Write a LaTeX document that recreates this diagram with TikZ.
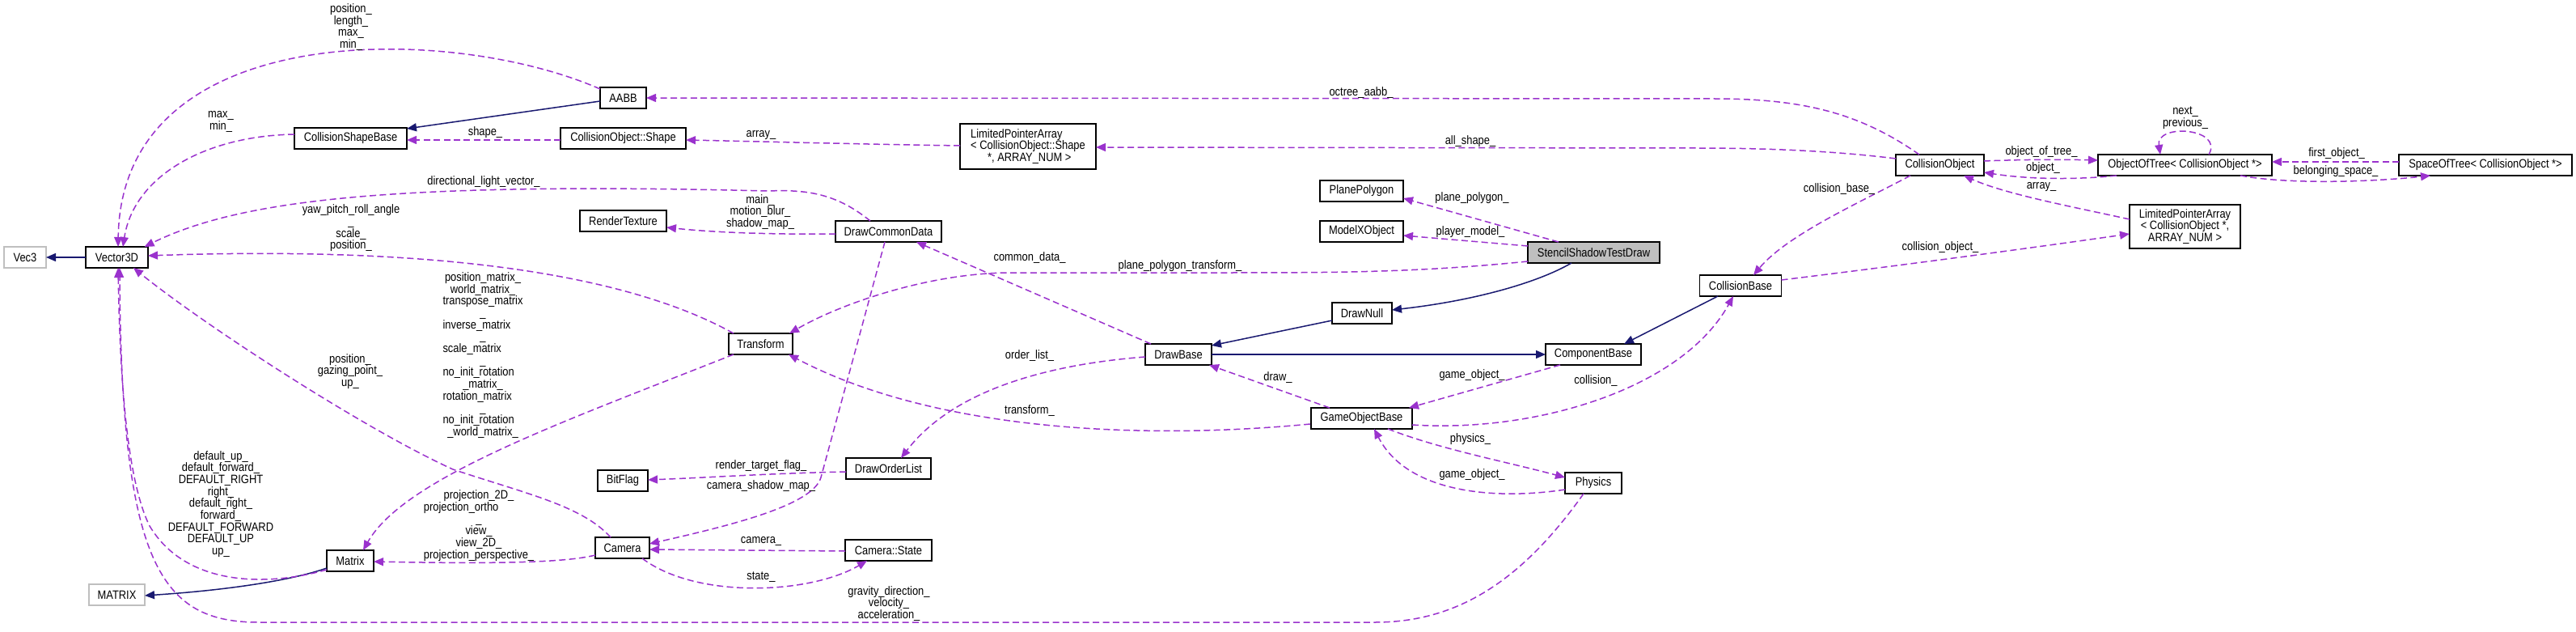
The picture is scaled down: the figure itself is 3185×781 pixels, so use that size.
\documentclass[tikz,border=0pt]{standalone}
\usepackage{fontspec}
\usepackage{calc}
\setmainfont{Liberation Sans}[FakeStretch=0.86]
\usetikzlibrary{arrows.meta,calc}
\newcommand{\lfont}{\fontsize{7.5pt}{7.35pt}\selectfont}
\newcommand{\wref}{}
\newcommand{\cl}[1]{\makebox[\widthof{\wref}][c]{#1}}
\definecolor{edgepurple}{HTML}{9A32CD}
\definecolor{inhblue}{HTML}{191970}
\definecolor{boxgray}{HTML}{BFBFBF}
\begin{document}
\begin{tikzpicture}[x=0.5pt,y=-0.5pt,
  cls/.style={draw=black, line width=0.8pt, fill=white, inner sep=0pt, minimum height=13pt, font=\lfont, align=center},
  grayc/.style={cls, draw=boxgray},
  bw/.style={minimum width=#1*0.5pt},
  bh/.style={minimum height=#1*0.5pt},
  lbl/.style={font=\lfont, inner sep=0pt, align=center},
  dep/.style={draw=edgepurple, line width=0.75pt, dash pattern=on 4pt off 2.2pt, -{Triangle[length=6pt,width=5pt]}},
  inh/.style={draw=inhblue, line width=0.75pt, -{Triangle[length=6pt,width=5pt]}}]
\useasboundingbox (0,0) rectangle (3185,781);

% ---------- class boxes ----------
\node[grayc,bw=52] (vec3) at (31,318) {Vec3};
\node[cls,bw=77] (vector3d) at (144.5,318) {Vector3D};
\node[cls,bw=57] (aabb) at (770.5,121) {AABB};
\node[cls,bw=139] (csb) at (433.5,171) {CollisionShapeBase};
\node[cls,bw=155] (cos) at (770.5,171) {CollisionObject::Shape};
\node[cls,bw=107] (rtex) at (770.5,273) {RenderTexture};
\node[cls,bw=79] (transform) at (940.5,425) {Transform};
\node[cls,bw=62] (bitflag) at (770,594) {BitFlag};
\node[cls,bw=67] (camera) at (769.5,677) {Camera};
\node[cls,bw=58] (matrix) at (433,693) {Matrix};
\node[grayc,bw=69] (mtxb) at (144.5,735) {MATRIX};
\renewcommand{\wref}{< CollisionObject::Shape}
\node[cls,bw=168,bh=56,align=left] (lpas) at (1271,181) {LimitedPointerArray\\< CollisionObject::Shape\\\cl{ *, ARRAY\_NUM >}};
\node[cls,bw=103] (planepoly) at (1683.5,236) {PlanePolygon};
\node[cls,bw=103] (modelx) at (1683.5,286) {ModelXObject};
\node[cls,bw=163,fill=boxgray] (sstd) at (1970.5,312) {StencilShadowTestDraw};
\node[cls,bw=131] (dcd) at (1098.5,286) {DrawCommonData};
\node[cls,bw=74] (drawnull) at (1684,387) {DrawNull};
\node[cls,bw=82] (drawbase) at (1457,438) {DrawBase};
\node[cls,bw=118] (compbase) at (1970,438) {ComponentBase};
\node[cls,bw=125] (gob) at (1683.5,517) {GameObjectBase};
\node[cls,bw=105] (dol) at (1098.5,579) {DrawOrderList};
\node[cls,bw=70] (physics) at (1970,597) {Physics};
\node[cls,bw=107] (camstate) at (1098.5,680) {Camera::State};
\node[cls,bw=109] (collobj) at (2398.5,204) {CollisionObject};
\node[cls,bw=215] (oot) at (2701.5,204) {ObjectOfTree< CollisionObject *>};
\node[cls,bw=214] (sot) at (3073,204) {SpaceOfTree< CollisionObject *>};
\node[cls,bw=137,bh=54] (lpaco) at (2701.5,280) {LimitedPointerArray\\< CollisionObject *,\\ARRAY\_NUM >};
\node[cls,bw=101] (collbase) at (2152,353) {CollisionBase};

% ---------- inheritance ----------
\draw[inh] ($(vector3d)+(-38.5,0)$) -- ($(vec3)+(26,0)$);
\draw[inh] ($(aabb)+(-28.5,4)$) -- ($(csb)+(69.5,-12)$);
\draw[inh] ($(matrix)+(-29,9)$) .. controls (370,714) and (300,728) .. ($(mtxb)+(34.5,1)$);
\draw[inh] ($(sstd)+(-27.5,13)$) .. controls (1900,350) and (1820,372) .. ($(drawnull)+(37,-4)$);
\draw[inh] ($(drawnull)+(-37,9)$) -- ($(drawbase)+(41,-11)$);
\draw[inh] ($(drawbase)+(41,0)$) -- ($(compbase)+(-59,0)$);
\draw[inh] ($(collbase)+(-28,13)$) -- ($(compbase)+(38,-13)$);

% ---------- usage ----------
\draw[dep] ($(aabb)+(-28.5,-11)$) .. controls (560,30) and (150,20) .. ($(vector3d)+(1.5,-13)$);
\draw[dep] ($(csb)+(-69.5,-5)$) .. controls (250,168) and (165,220) .. ($(vector3d)+(7.5,-13)$);
\draw[dep] ($(dcd)+(-22.5,-13)$) .. controls (1035,240) and (1000,234) .. (950,236) .. controls (500,225) and (300,245) .. ($(vector3d)+(34,-13)$);
\draw[dep] ($(transform)+(-33.5,-13)$) .. controls (760,330) and (500,305) .. ($(vector3d)+(38.5,-2)$);
\draw[dep] ($(camera)+(-14.5,-13)$) .. controls (720,625) and (650,610) .. (560,580) .. controls (450,530) and (250,400) .. ($(vector3d)+(20.5,13)$);
\draw[dep] ($(matrix)+(-29,11)$) .. controls (330,725) and (230,725) .. (185,650) .. controls (155,590) and (148,450) .. ($(vector3d)+(1.5,13)$);
\draw[dep] ($(physics)+(-12,13)$) .. controls (1880,720) and (1800,769) .. (1700,769) -- (320,769) .. controls (200,769) and (150,700) .. ($(vector3d)+(3.5,13)$);
\draw[dep] ($(transform)+(-33.5,13)$) .. controls (700,520) and (500,590) .. ($(matrix)+(16,-13)$);
\draw[dep] ($(camera)+(-33.5,9)$) .. controls (700,695) and (620,697) .. ($(matrix)+(29,1)$);
\draw[dep] ($(dcd)+(-65.5,3)$) .. controls (950,290) and (880,287) .. ($(rtex)+(53.5,8)$);
\draw[dep] ($(dcd)+(-4.5,13)$) -- (1015,590) .. controls (1005,625) and (900,650) .. ($(camera)+(33.5,-5)$);
\draw[dep] ($(dol)+(-52.5,4)$) .. controls (950,585) and (880,590) .. ($(bitflag)+(31,-1)$);
\draw[dep] ($(camstate)+(-53.5,1)$) -- ($(camera)+(33.5,2)$);
\draw[dep] ($(camera)+(24.5,13)$) .. controls (860,740) and (1000,735) .. ($(camstate)+(-26.5,13)$);
\draw[dep] ($(lpas)+(-84,-1)$) .. controls (1050,178) and (950,175) .. ($(cos)+(77.5,2)$);
\draw[dep] ($(cos)+(-77.5,2)$) -- ($(csb)+(69.5,2)$);
\draw[dep] ($(collobj)+(-25.5,-13)$) .. controls (2300,140) and (2230,122) .. (2120,122) -- ($(aabb)+(28.5,0)$);
\draw[dep] ($(collobj)+(-54.5,-8)$) .. controls (2280,188) and (2200,183) .. (2100,183) -- ($(lpas)+(84,1)$);
\draw[dep] ($(sstd)+(-43.5,-13)$) -- ($(planepoly)+(51.5,9)$);
\draw[dep] ($(sstd)+(-81.5,-8)$) -- ($(modelx)+(51.5,5)$);
\draw[dep] ($(sstd)+(-81.5,11)$) .. controls (1750,337) and (1650,337) .. (1500,337) -- (1250,337) .. controls (1150,337) and (1040,375) .. ($(transform)+(35.5,-13)$);
\draw[dep] ($(drawbase)+(-34,-13)$) -- ($(dcd)+(34.5,13)$);
\draw[dep] ($(drawbase)+(-41,3)$) .. controls (1300,450) and (1180,480) .. ($(dol)+(15.5,-13)$);
\draw[dep] ($(gob)+(-39.5,-13)$) -- ($(drawbase)+(38,13)$);
\draw[dep] ($(compbase)+(-41,13)$) -- ($(gob)+(58.5,-13)$);
\draw[dep] ($(gob)+(-63.5,7)$) .. controls (1400,545) and (1150,530) .. ($(transform)+(34.5,13)$);
\draw[dep] ($(gob)+(62.5,8)$) .. controls (1900,535) and (2080,480) .. ($(collbase)+(-9,13)$);
\draw[dep] ($(gob)+(32.5,13)$) .. controls (1780,555) and (1860,570) .. ($(physics)+(-35,-7)$);
\draw[dep] ($(physics)+(-35,8)$) .. controls (1850,618) and (1740,610) .. ($(gob)+(15.5,13)$);
\draw[dep] ($(collbase)+(50.5,-7)$) .. controls (2350,328) and (2500,308) .. ($(lpaco)+(-68.5,9)$);
\draw[dep] ($(lpaco)+(-68.5,-9)$) .. controls (2560,255) and (2480,240) .. ($(collobj)+(29.5,13)$);
\draw[dep] ($(collobj)+(-36.5,13)$) .. controls (2300,250) and (2210,290) .. ($(collbase)+(16,-13)$);
\draw[dep] ($(collobj)+(54.5,-5)$) .. controls (2500,197) and (2550,197) .. ($(oot)+(-107.5,-6)$);
\draw[dep] ($(oot)+(-84.5,13)$) .. controls (2570,222) and (2510,222) .. ($(collobj)+(54.5,9)$);
\draw[dep] ($(oot)+(29.5,-13)$) .. controls (2750,158) and (2665,152) .. ($(oot)+(-30.5,-13)$);
\draw[dep] ($(sot)+(-107,-4)$) -- ($(oot)+(107.5,-4)$);
\draw[dep] ($(oot)+(68.5,13)$) .. controls (2830,228) and (2930,225) .. ($(sot)+(-68,13)$);

% ---------- labels ----------
\node[lbl] (l1) at (434,33.5) {position\_\\length\_\\max\_\\min\_};
\node[lbl] (l2) at (273,150.5) {max\_\\min\_};
\node[lbl] (l3) at (600,164) {shape\_};
\node[lbl] (l4) at (941,167) {array\_};
\node[lbl] (l5) at (598,225) {directional\_light\_vector\_};
\node[lbl] (l6) at (940,262) {main\_\\motion\_blur\_\\shadow\_map\_};
\node[lbl] (l7) at (434,282) {yaw\_pitch\_roll\_angle\\\_\\scale\_\\position\_};
\renewcommand{\wref}{transpose\_matrix}
\node[lbl,align=left] (l8) at (597,439) {\cl{position\_matrix\_}\\\cl{world\_matrix\_}\\transpose\_matrix\\\cl{\_}\\inverse\_matrix\\\cl{\_}\\scale\_matrix\\\cl{\_}\\no\_init\_rotation\\\cl{\_matrix\_}\\rotation\_matrix\\\cl{\_}\\no\_init\_rotation\\\cl{\_world\_matrix\_}};
\node[lbl] (l9) at (433,459) {position\_\\gazing\_point\_\\up\_};
\node[lbl] (l10) at (273,623) {default\_up\_\\default\_forward\_\\DEFAULT\_RIGHT\\right\_\\default\_right\_\\forward\_\\DEFAULT\_FORWARD\\DEFAULT\_UP\\up\_};
\node[lbl] (l11) at (941,576) {render\_target\_flag\_};
\node[lbl] (l12) at (941,601) {camera\_shadow\_map\_};
\renewcommand{\wref}{projection\_perspective\_}
\node[lbl,align=left] (l13) at (592,649.5) {\cl{projection\_2D\_}\\projection\_ortho\\\cl{\_}\\\cl{view\_}\\\cl{view\_2D\_}\\projection\_perspective\_};
\node[lbl] (l14) at (941,669) {camera\_};
\node[lbl] (l15) at (941,713) {state\_};
\node[lbl] (l16) at (1099,746) {gravity\_direction\_\\velocity\_\\acceleration\_};
\node[lbl] (l17) at (1683,115) {octree\_aabb\_};
\node[lbl] (l18) at (1818,175) {all\_shape\_};
\node[lbl] (l19) at (1820,245) {plane\_polygon\_};
\node[lbl] (l20) at (1818,287) {player\_model\_};
\node[lbl] (l21) at (1273,319) {common\_data\_};
\node[lbl] (l22) at (1459,329) {plane\_polygon\_transform\_};
\node[lbl] (l23) at (1273,440) {order\_list\_};
\node[lbl] (l24) at (1580,467) {draw\_};
\node[lbl] (l25) at (1820,464) {game\_object\_};
\node[lbl] (l26) at (1973,471) {collision\_};
\node[lbl] (l27) at (1273,508) {transform\_};
\node[lbl] (l28) at (1818,543) {physics\_};
\node[lbl] (l29) at (1820,587) {game\_object\_};
\node[lbl] (l30) at (2274,234) {collision\_base\_};
\node[lbl] (l31) at (2524,188) {object\_of\_tree\_};
\node[lbl] (l32) at (2526,208) {object\_};
\node[lbl] (l33) at (2524,231) {array\_};
\node[lbl] (l34) at (2399,306) {collision\_object\_};
\node[lbl] (l35) at (2702,145.5) {next\_\\previous\_};
\node[lbl] (l36) at (2889,190) {first\_object\_};
\node[lbl] (l37) at (2888,212) {belonging\_space\_};
\end{tikzpicture}
\end{document}
